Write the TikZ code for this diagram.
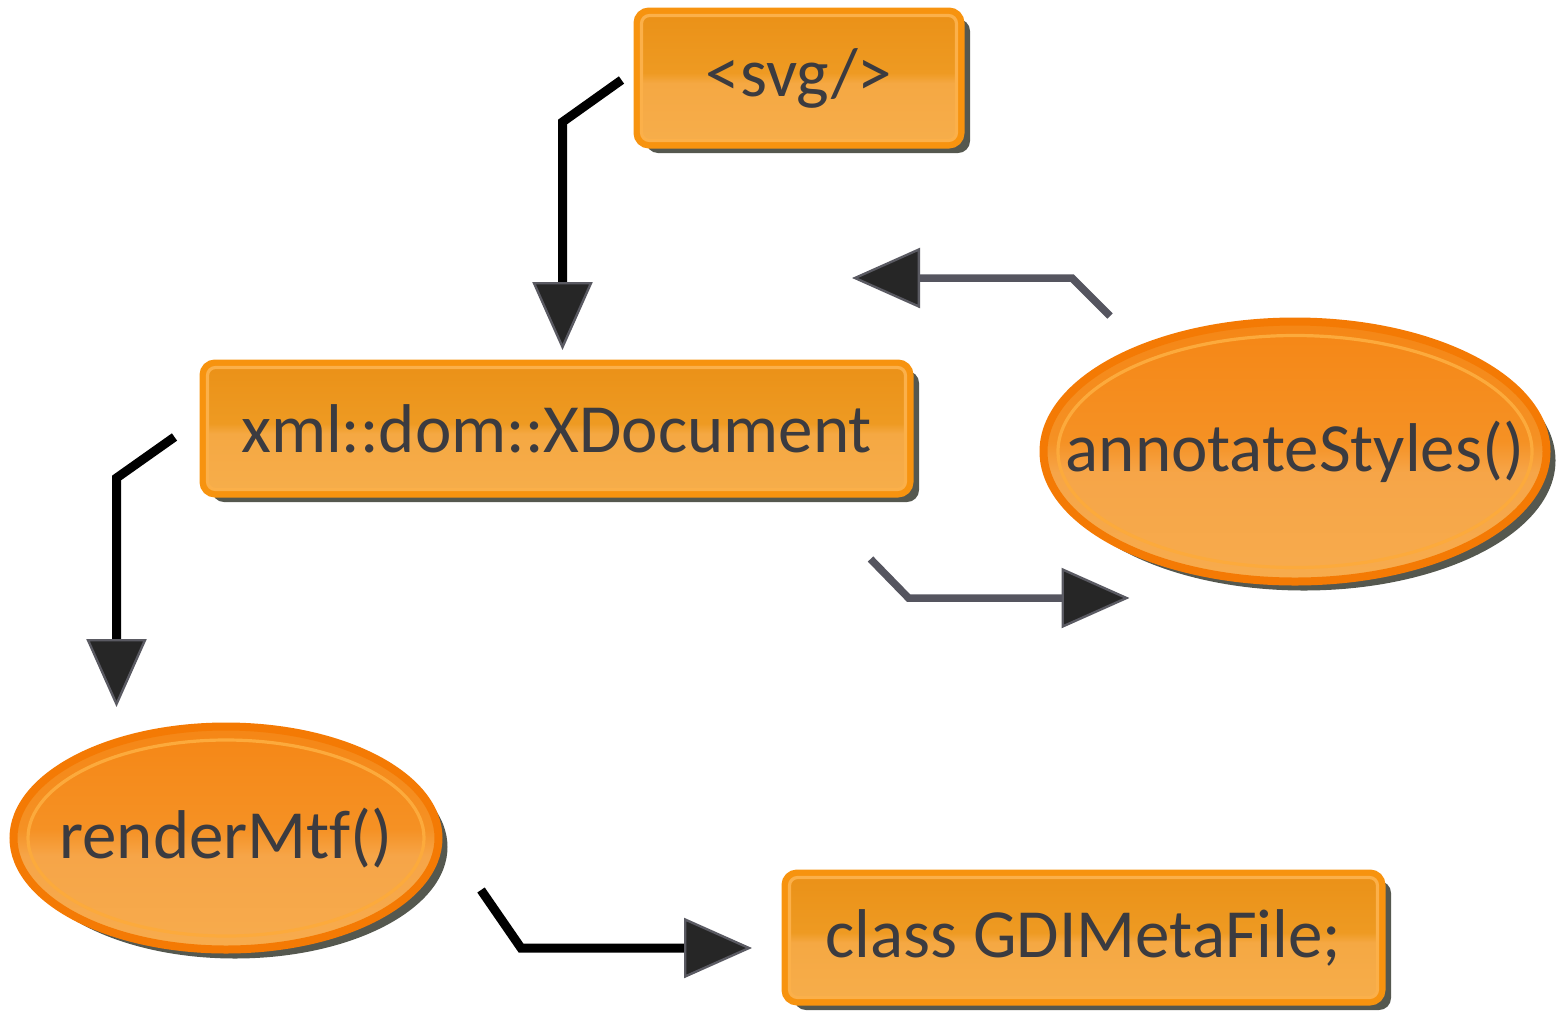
\documentclass[tikz,border=0pt]{standalone}
\usepackage{fontspec}
\setmainfont{Carlito}[Ligatures=NoCommon]
\usetikzlibrary{shapes.geometric,shadows,arrows.meta}
\definecolor{boxedge}{HTML}{F7930F}
\definecolor{boxtop}{HTML}{E6870C}
\definecolor{boxmid}{HTML}{EE9A22}
\definecolor{boxlow}{HTML}{F5A843}
\definecolor{boxbot}{HTML}{F8B453}
\definecolor{boxring}{HTML}{FBB04A}
\definecolor{elledge}{HTML}{F47A04}
\definecolor{elltop}{HTML}{F47B06}
\definecolor{ellmid}{HTML}{F59124}
\definecolor{elllow}{HTML}{F6A548}
\definecolor{ellbot}{HTML}{F8B352}
\definecolor{ellring}{HTML}{FCAA3C}
\definecolor{txt}{HTML}{3B3B40}
\definecolor{shade}{HTML}{55584F}
\definecolor{grayline}{HTML}{55555F}
\definecolor{tipfill}{HTML}{262626}
\definecolor{tipedge}{HTML}{5A5A62}
\pgfdeclareverticalshading{boxgloss}{100bp}{color(0bp)=(boxbot); color(48bp)=(boxlow); color(52bp)=(boxmid); color(100bp)=(boxtop)}
\pgfdeclareverticalshading{ellgloss}{100bp}{color(0bp)=(ellbot); color(46bp)=(elllow); color(52bp)=(ellmid); color(100bp)=(elltop)}
\tikzset{
  boxnode/.style={draw=boxedge,line width=3.5pt,rounded corners=6pt,shading=boxgloss,
    drop shadow={shadow xshift=4.5pt,shadow yshift=-4pt,fill=shade,opacity=1},
    text=txt,font=\fontsize{34.5}{40}\selectfont,inner sep=0pt},
  ellnode/.style={ellipse,draw=elledge,line width=4pt,shading=ellgloss,
    drop shadow={shadow xshift=4.5pt,shadow yshift=-4.5pt,fill=shade,opacity=1},
    text=txt,font=\fontsize{34.5}{40}\selectfont,inner sep=0pt},
  boxring/.style={draw=boxring,line width=1.6pt,rounded corners=4pt},
  ellring/.style={draw=ellring,line width=1.6pt},
  tip/.tip={Triangle[length=34pt,width=30pt,fill=tipfill,color=tipedge,line width=1.2pt]},
  darklink/.style={draw=black,line width=4.5pt,-tip},
  graylink/.style={draw=grayline,line width=3.75pt,-tip}
}
\begin{document}
\begin{tikzpicture}[x=0.5pt,y=-0.5pt]
\useasboundingbox (0,0) rectangle (1558,1013);
% nodes
\node [boxnode,minimum width=162pt,minimum height=67pt,name=svg] at (799,78) {<svg/>};
\node [boxnode,minimum width=353.5pt,minimum height=65.5pt,name=doc] at (556.5,428.5) {xml::dom::XDocument};
\node [ellnode,minimum width=251.5pt,minimum height=130pt,name=ann] at (1295,451.5) {\makebox[0pt]{annotateStyles()}};
\node [ellnode,minimum width=212.5pt,minimum height=111.5pt,name=mtf] at (226,838) {\makebox[0pt]{renderMtf()}};
\node [boxnode,minimum width=298.5pt,minimum height=64.5pt,name=gdi] at (1083.5,937.5) {class GDIMetaFile;};
% inner highlight rings
\draw[boxring] ([shift={(8,8)}]svg.north west) rectangle ([shift={(-8,-8)}]svg.south east);
\draw[boxring] ([shift={(8,8)}]doc.north west) rectangle ([shift={(-8,-8)}]doc.south east);
\draw[boxring] ([shift={(8,8)}]gdi.north west) rectangle ([shift={(-8,-8)}]gdi.south east);
\draw[ellring] (ann.center) ellipse [x radius=237, y radius=116];
\draw[ellring] (mtf.center) ellipse [x radius=198, y radius=98];
% connectors
\draw[darklink] ([shift={(-12,2)}]svg.west) -- ++(-59,42) -- ++(0,228);
\draw[darklink] ([shift={(-25,8.5)}]doc.west) -- ++(-58,41) -- ++(0,229);
\draw[graylink] ([shift={(-185,-135.5)}]ann.center) -- ++(-38,-38) -- ++(-220,0);
\draw[graylink] ([shift={(-43,61.5)}]doc.south east) -- ++(38,39) -- ++(221,0);
\draw[darklink] ([shift={(38.5,52)}]mtf.east) -- ++(40,58) -- ++(231,0);
\end{tikzpicture}
\end{document}
